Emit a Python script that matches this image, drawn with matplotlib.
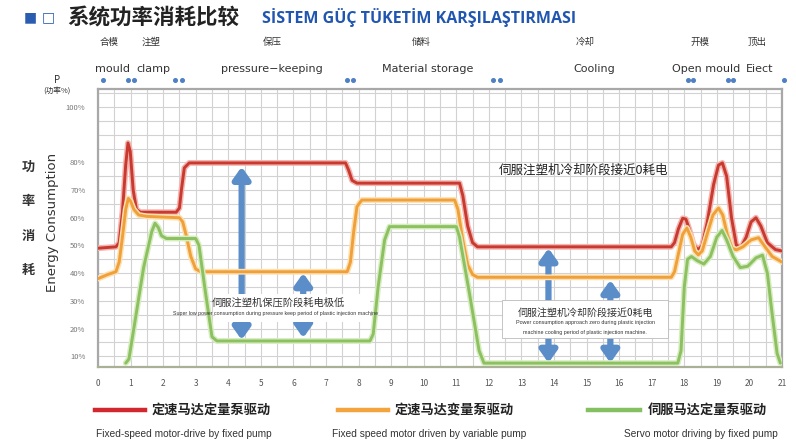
import matplotlib
matplotlib.use('Agg')
import matplotlib.pyplot as plt
import matplotlib.patheffects as pe
from matplotlib.patches import Rectangle
from matplotlib.lines import Line2D
import numpy as np

plt.rcParams['font.family'] = ['Noto Sans CJK SC', 'DejaVu Sans']

# ---- data ----
red_x = [0, 0.55, 0.65, 0.75, 0.85, 0.92, 0.99, 1.08, 1.18, 1.3, 2.4, 2.5, 2.56, 2.65, 2.8,
         7.6, 7.7, 7.8, 7.95, 11.1, 11.2, 11.35, 11.5, 11.65, 17.6, 17.7, 17.82, 17.95, 18.05,
         18.15, 18.28, 18.42, 18.55, 18.7, 18.9, 19.05, 19.17, 19.3, 19.45, 19.6, 19.75, 19.9,
         20.05, 20.2, 20.35, 20.55, 20.8, 21.0]
red_y = [49, 49.5, 51, 62, 79, 87, 84, 70, 63, 62, 62, 63.5, 70, 78, 79.8,
         79.8, 77, 73.5, 72.5, 72.5, 68, 57, 51, 49.5, 49.5, 51, 56, 59.8, 59.5,
         56, 50.5, 48.4, 50, 58, 72, 79, 79.8, 75, 60, 50, 49.5, 53,
         58.5, 60, 57, 51, 48.5, 48]

orange_x = [0, 0.3, 0.55, 0.65, 0.75, 0.85, 0.93, 1.0, 1.1, 1.25, 1.5, 2.5, 2.6, 2.7, 2.85, 3.0,
            3.15, 7.65, 7.75, 7.85, 7.95, 8.1, 10.95, 11.05, 11.2, 11.35, 11.5, 11.65, 17.6,
            17.7, 17.82, 17.95, 18.08, 18.2, 18.32, 18.43, 18.55, 18.7, 18.88, 19.05, 19.18,
            19.32, 19.47, 19.6, 19.8, 20.05, 20.28, 20.45, 20.7, 21.0]
orange_y = [38, 39.5, 40.5, 44, 53, 63, 67, 66, 63, 61, 60.5, 60, 58.5, 54, 46, 41.5,
            40.5, 40.5, 44, 55, 64, 66.4, 66.4, 63, 52, 43, 39.5, 38.5, 38.5,
            40.5, 47, 54, 56.3, 53, 48, 46.6, 48, 54, 61, 63.5, 61,
            54, 49, 48.4, 49.5, 52, 52.8, 50, 46, 44]

green_x = [0.85, 0.95, 1.1, 1.4, 1.65, 1.75, 1.85, 1.95, 2.1, 3.0, 3.1, 3.3, 3.5, 3.65, 8.35,
           8.45, 8.6, 8.8, 8.95, 11.0, 11.1, 11.4, 11.7, 11.85, 17.8, 17.9, 18.0, 18.1, 18.22,
           18.4, 18.6, 18.8, 19.0, 19.16, 19.3, 19.5, 19.72, 19.95, 20.2, 20.4, 20.55, 20.7,
           20.85, 20.95]
green_y = [7.5, 9, 20, 42, 55, 58, 56.5, 53.5, 52.5, 52.5, 50, 33, 17, 15.5, 15.5,
           18, 35, 52, 56.8, 56.8, 53, 33, 12, 7.5, 7.5, 12, 35, 45, 46,
           44.5, 43.3, 46, 53, 55.4, 52, 46, 42, 42.5, 45.5, 46.5, 40, 25,
           11, 7.5]

# double arrows: x, top, bottom
arrows = [(4.41, 78.4, 15.9), (6.3, 40.0, 16.6), (13.83, 49.0, 7.6), (15.73, 37.5, 7.6)]

# phase boundary markers along the top
marker_x = [0.15, 0.92, 1.11, 2.37, 2.58, 7.65, 7.83, 12.14, 12.35, 18.1, 18.28, 19.35, 19.51, 21.07]

x_ticks = list(range(0, 22))
y_ticks = [10, 20, 30, 40, 50, 60, 70, 80, 100]
y_labels = ['%d%%' % v for v in y_ticks]

# phase names (px centre, cn, en)
phases_cn = [(109, '合模'), (151, '注塑'), (272, '保压'), (421, '储料'), (585, '冷却'), (700, '开模'), (757, '顶出')]
phases_en = [(112, 'mould'), (153, 'clamp'), (272, 'pressure−keeping'), (428, 'Material storage'),
             (594, 'Cooling'), (706, 'Open mould'), (760, 'Eiect')]

W, H = 796, 442


def fx(px):
    return px / W


def fy(py):
    return 1 - py / H


fig = plt.figure(figsize=(W / 100, H / 100), dpi=100)
ax = fig.add_axes([fx(98), fy(367), (782 - 98) / W, (367 - 89) / H])
ax.set_xlim(0, 21.0)
ax.set_ylim(6.1, 106.5)

ax.set_xticks(x_ticks)
ax.set_xticklabels([str(v) for v in x_ticks], fontsize=6, color='#555555')
ax.set_yticks(y_ticks)
ax.set_yticklabels(y_labels, fontsize=5.5, color='#777777')
ax.set_xticks(np.arange(0, 21.01, 0.5), minor=True)
ax.set_yticks(np.arange(10, 106, 5), minor=True)
ax.tick_params(which='both', length=0)
ax.tick_params(axis='x', pad=9)
ax.tick_params(axis='y', pad=9)
ax.grid(which='both', color='#d2d2d2', lw=0.8)
ax.set_axisbelow(True)
for s in ax.spines.values():
    s.set_color('#a8a8a8')
    s.set_linewidth(1.6)
ax.spines['bottom'].set_color('#a9b095')

# curves with a soft halo
for xs, ys, c, halo in [(red_x, red_y, '#c83a30', '#f4b4b0'),
                        (orange_x, orange_y, '#f0a03a', '#fde0b0'),
                        (green_x, green_y, '#8cc060', '#d6edc0')]:
    ax.plot(xs, ys, color=c, lw=2.1, solid_joinstyle='round', solid_capstyle='round', zorder=5,
            path_effects=[pe.Stroke(linewidth=4.2, foreground=halo), pe.Normal()])

# arrows
for x, top, bot in arrows:
    ax.annotate('', xy=(x, top), xytext=(x, bot),
                arrowprops=dict(arrowstyle='<|-|>,head_length=0.7,head_width=0.5',
                                color='#5b8ec9', lw=4.5, shrinkA=0, shrinkB=0, mutation_scale=10),
                zorder=3)

# annotation boxes
ax.add_patch(Rectangle((3.6, 22.3), 4.75, 10.2, facecolor='white', edgecolor='none', zorder=4))
ax.text(5.53, 29.2, '伺服注塑机保压阶段耗电极低', fontsize=7.4, color='#333333',
        ha='center', va='center', zorder=6)
ax.text(5.44, 25.3, 'Super low power consumption during pressure keep period of plastic injection machine',
        fontsize=3.8, color='#333333', ha='center', va='center', zorder=6,
        family=['Liberation Sans', 'DejaVu Sans'])

ax.add_patch(Rectangle((12.4, 16.6), 5.1, 13.7, facecolor='white', edgecolor='#bbbbbb', lw=0.6, zorder=4))
ax.text(14.96, 25.6, '伺服注塑机冷却阶段接近0耗电', fontsize=7.2, color='#333333',
        ha='center', va='center', zorder=6)
ax.text(14.96, 22.0, 'Power consumption approach zero during plastic injection', fontsize=3.9,
        color='#333333', ha='center', va='center', zorder=6, family=['Liberation Sans', 'DejaVu Sans'])
ax.text(14.96, 18.4, 'machine cooling period of plastic injection machine.', fontsize=3.9,
        color='#333333', ha='center', va='center', zorder=6, family=['Liberation Sans', 'DejaVu Sans'])

ax.text(14.9, 77, '伺服注塑机冷却阶段接近0耗电', fontsize=9, color='#222222',
        ha='center', va='center', zorder=6)

# boundary markers above the plot
ax.plot(marker_x, [109.8] * len(marker_x), ls='none', marker='o', ms=2.6,
        color='#4f7fc4', clip_on=False)

# title
fig.text(fx(24), fy(17), '■', fontsize=10, color='#2a5db0', va='center', ha='left',
         family=['DejaVu Sans'])
fig.text(fx(42), fy(17), '□', fontsize=10, color='#2a5db0', va='center', ha='left',
         family=['DejaVu Sans'])
fig.text(fx(67), fy(17), '系统功率消耗比较', fontsize=15.5, fontweight='bold', color='#222222',
         va='center', ha='left')
fig.text(fx(262), fy(18), 'SİSTEM GÜÇ TÜKETİM KARŞILAŞTIRMASI', fontsize=11.5, fontweight='bold',
         color='#2156b0', va='center', ha='left', family=['Open Sans', 'DejaVu Sans'])

for px, t in phases_cn:
    fig.text(fx(px), fy(42), t, fontsize=6.8, color='#333333', ha='center', va='center')
for px, t in phases_en:
    fig.text(fx(px), fy(69), t, fontsize=8, color='#333333', ha='center', va='center',
             family=['DejaVu Sans'])

fig.text(fx(57), fy(80), 'P', fontsize=7, color='#333333', ha='center', va='center')
fig.text(fx(57), fy(91), '(功率%)', fontsize=5.5, color='#333333', ha='center', va='center')

# y axis titles
for py, ch in zip([167, 201, 236, 270], '功率消耗'):
    fig.text(fx(28), fy(py), ch, fontsize=9.5, fontweight='bold', color='#333333',
             ha='center', va='center')
fig.text(fx(53), fy(222), 'Energy Consumption', fontsize=9.5, color='#333333', rotation=90,
         ha='center', va='center', family=['DejaVu Sans'])

# legend
legend_items = [
    ('#d0282e', 95, 145, 152, '定速马达定量泵驱动', 96, 'Fixed-speed motor-drive by fixed pump'),
    ('#f4a43c', 338, 388, 395, '定速马达变量泵驱动', 332, 'Fixed speed motor driven by variable pump'),
    ('#84c060', 588, 640, 648, '伺服马达定量泵驱动', 624, 'Servo motor driving by fixed pump'),
]
for c, l0, l1, tx, cn, ex, en in legend_items:
    fig.add_artist(Line2D([fx(l0), fx(l1)], [fy(410), fy(410)], color=c, lw=3.2,
                          transform=fig.transFigure))
    fig.text(fx(tx), fy(410), cn, fontsize=9.5, fontweight='bold', color='#222222',
             ha='left', va='center')
    fig.text(fx(ex), fy(434), en, fontsize=7.3, color='#333333', ha='left', va='center',
             family=['Liberation Sans', 'DejaVu Sans'])

fig.savefig('out.png', dpi=100)
